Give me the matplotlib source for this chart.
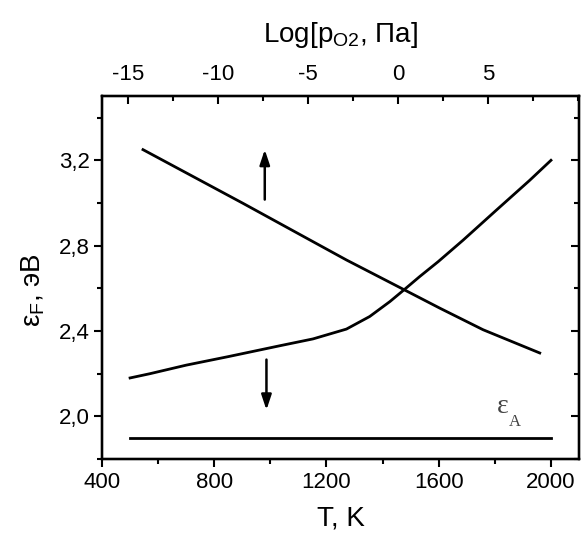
import matplotlib
matplotlib.use("Agg")
import matplotlib.pyplot as plt
from matplotlib.ticker import MultipleLocator, FuncFormatter

plt.rcParams['font.family'] = ['Liberation Sans', 'DejaVu Sans']
plt.rcParams['mathtext.fontset'] = 'custom'
plt.rcParams['mathtext.rm'] = 'Liberation Sans'
plt.rcParams['mathtext.it'] = 'Liberation Sans'
plt.rcParams['axes.unicode_minus'] = False

# Data
T_rise = [500, 571, 700, 850, 1034, 1152, 1271, 1354, 1426, 1479, 1532, 1598, 1687, 1805, 1924, 2000]
eps_rise = [2.18, 2.20, 2.24, 2.28, 2.331, 2.363, 2.409, 2.468, 2.538, 2.596, 2.655, 2.725,
            2.826, 2.966, 3.106, 3.20]
T_fall = [546, 903, 1164, 1271, 1473, 1604, 1758, 1960]
eps_fall = [3.25, 2.998, 2.81, 2.733, 2.596, 2.507, 2.406, 2.297]
T_A = [500, 2000]
eps_A = [1.90, 1.90]
arrow_up = (980, 3.016, 3.25)
arrow_down = (986, 2.266, 2.03)

x_ticks = [400, 800, 1200, 1600, 2000]
y_ticks = [2.0, 2.4, 2.8, 3.2]
top_ticks = [-15, -10, -5, 0, 5]

fig = plt.figure(figsize=(5.81, 5.35), dpi=100)
ax = fig.add_axes([0.1756, 0.142, 0.8210, 0.678])

lw = 2.0
ax.plot(T_rise, eps_rise, color='black', lw=lw)
ax.plot(T_fall, eps_fall, color='black', lw=lw)
ax.plot(T_A, eps_A, color='black', lw=lw)

arrowprops = dict(arrowstyle='-|>,head_length=0.9,head_width=0.3', color='black', lw=1.8,
                  shrinkA=0, shrinkB=0)
ax.annotate('', xy=(arrow_up[0], arrow_up[2]), xytext=(arrow_up[0], arrow_up[1]),
            arrowprops=arrowprops)
ax.annotate('', xy=(arrow_down[0], arrow_down[2]), xytext=(arrow_down[0], arrow_down[1]),
            arrowprops=arrowprops)

ax.text(1828, 2.047, 'ε', family='Liberation Serif', fontsize=20, color='#444444',
        ha='center', va='center')
ax.text(1873, 1.975, 'A', family='Liberation Serif', fontsize=12, color='#444444',
        ha='center', va='center')

ax.set_xlim(400, 2100)
ax.set_ylim(1.8, 3.5)
ax.set_xticks(x_ticks)
ax.set_yticks(y_ticks)
ax.xaxis.set_minor_locator(MultipleLocator(200))
ax.yaxis.set_minor_locator(MultipleLocator(0.2))
ax.yaxis.set_major_formatter(FuncFormatter(lambda v, p: f"{v:.1f}".replace('.', ',')))
ax.tick_params(which='both', direction='out', width=1.5, labelsize=16, top=False, right=False)
ax.tick_params(which='major', length=6, pad=3)
ax.tick_params(which='minor', length=3.5)
for s in ax.spines.values():
    s.set_linewidth(1.6)

ax.set_xlabel('T, K', fontsize=20, labelpad=9)
ax.set_ylabel('ε$_\\mathregular{F}$, эВ', fontsize=20)
ax.yaxis.set_label_coords(-0.115, 0.465)

# right side ticks, inward
axr = ax.twinx()
axr.set_ylim(ax.get_ylim())
axr.set_yticks(y_ticks)
axr.yaxis.set_minor_locator(MultipleLocator(0.2))
axr.tick_params(which='both', direction='in', width=1.5, labelright=False)
axr.tick_params(which='major', length=6)
axr.tick_params(which='minor', length=3.5)

# top axis
axt = ax.twiny()
axt.set_xlim(-16.45, 10.05)
axt.set_xticks(top_ticks)
axt.xaxis.set_minor_locator(MultipleLocator(2.5))
axt.tick_params(which='both', direction='in', width=1.5, labelsize=16, pad=8)
axt.tick_params(which='major', length=6)
axt.tick_params(which='minor', length=3.5)
axt.set_xlabel('Log[p$_\\mathregular{O2}$, Па]', fontsize=20, labelpad=16)
for a in (axr, axt):
    for s in a.spines.values():
        s.set_linewidth(1.6)

fig.savefig('out.png', dpi=100)
